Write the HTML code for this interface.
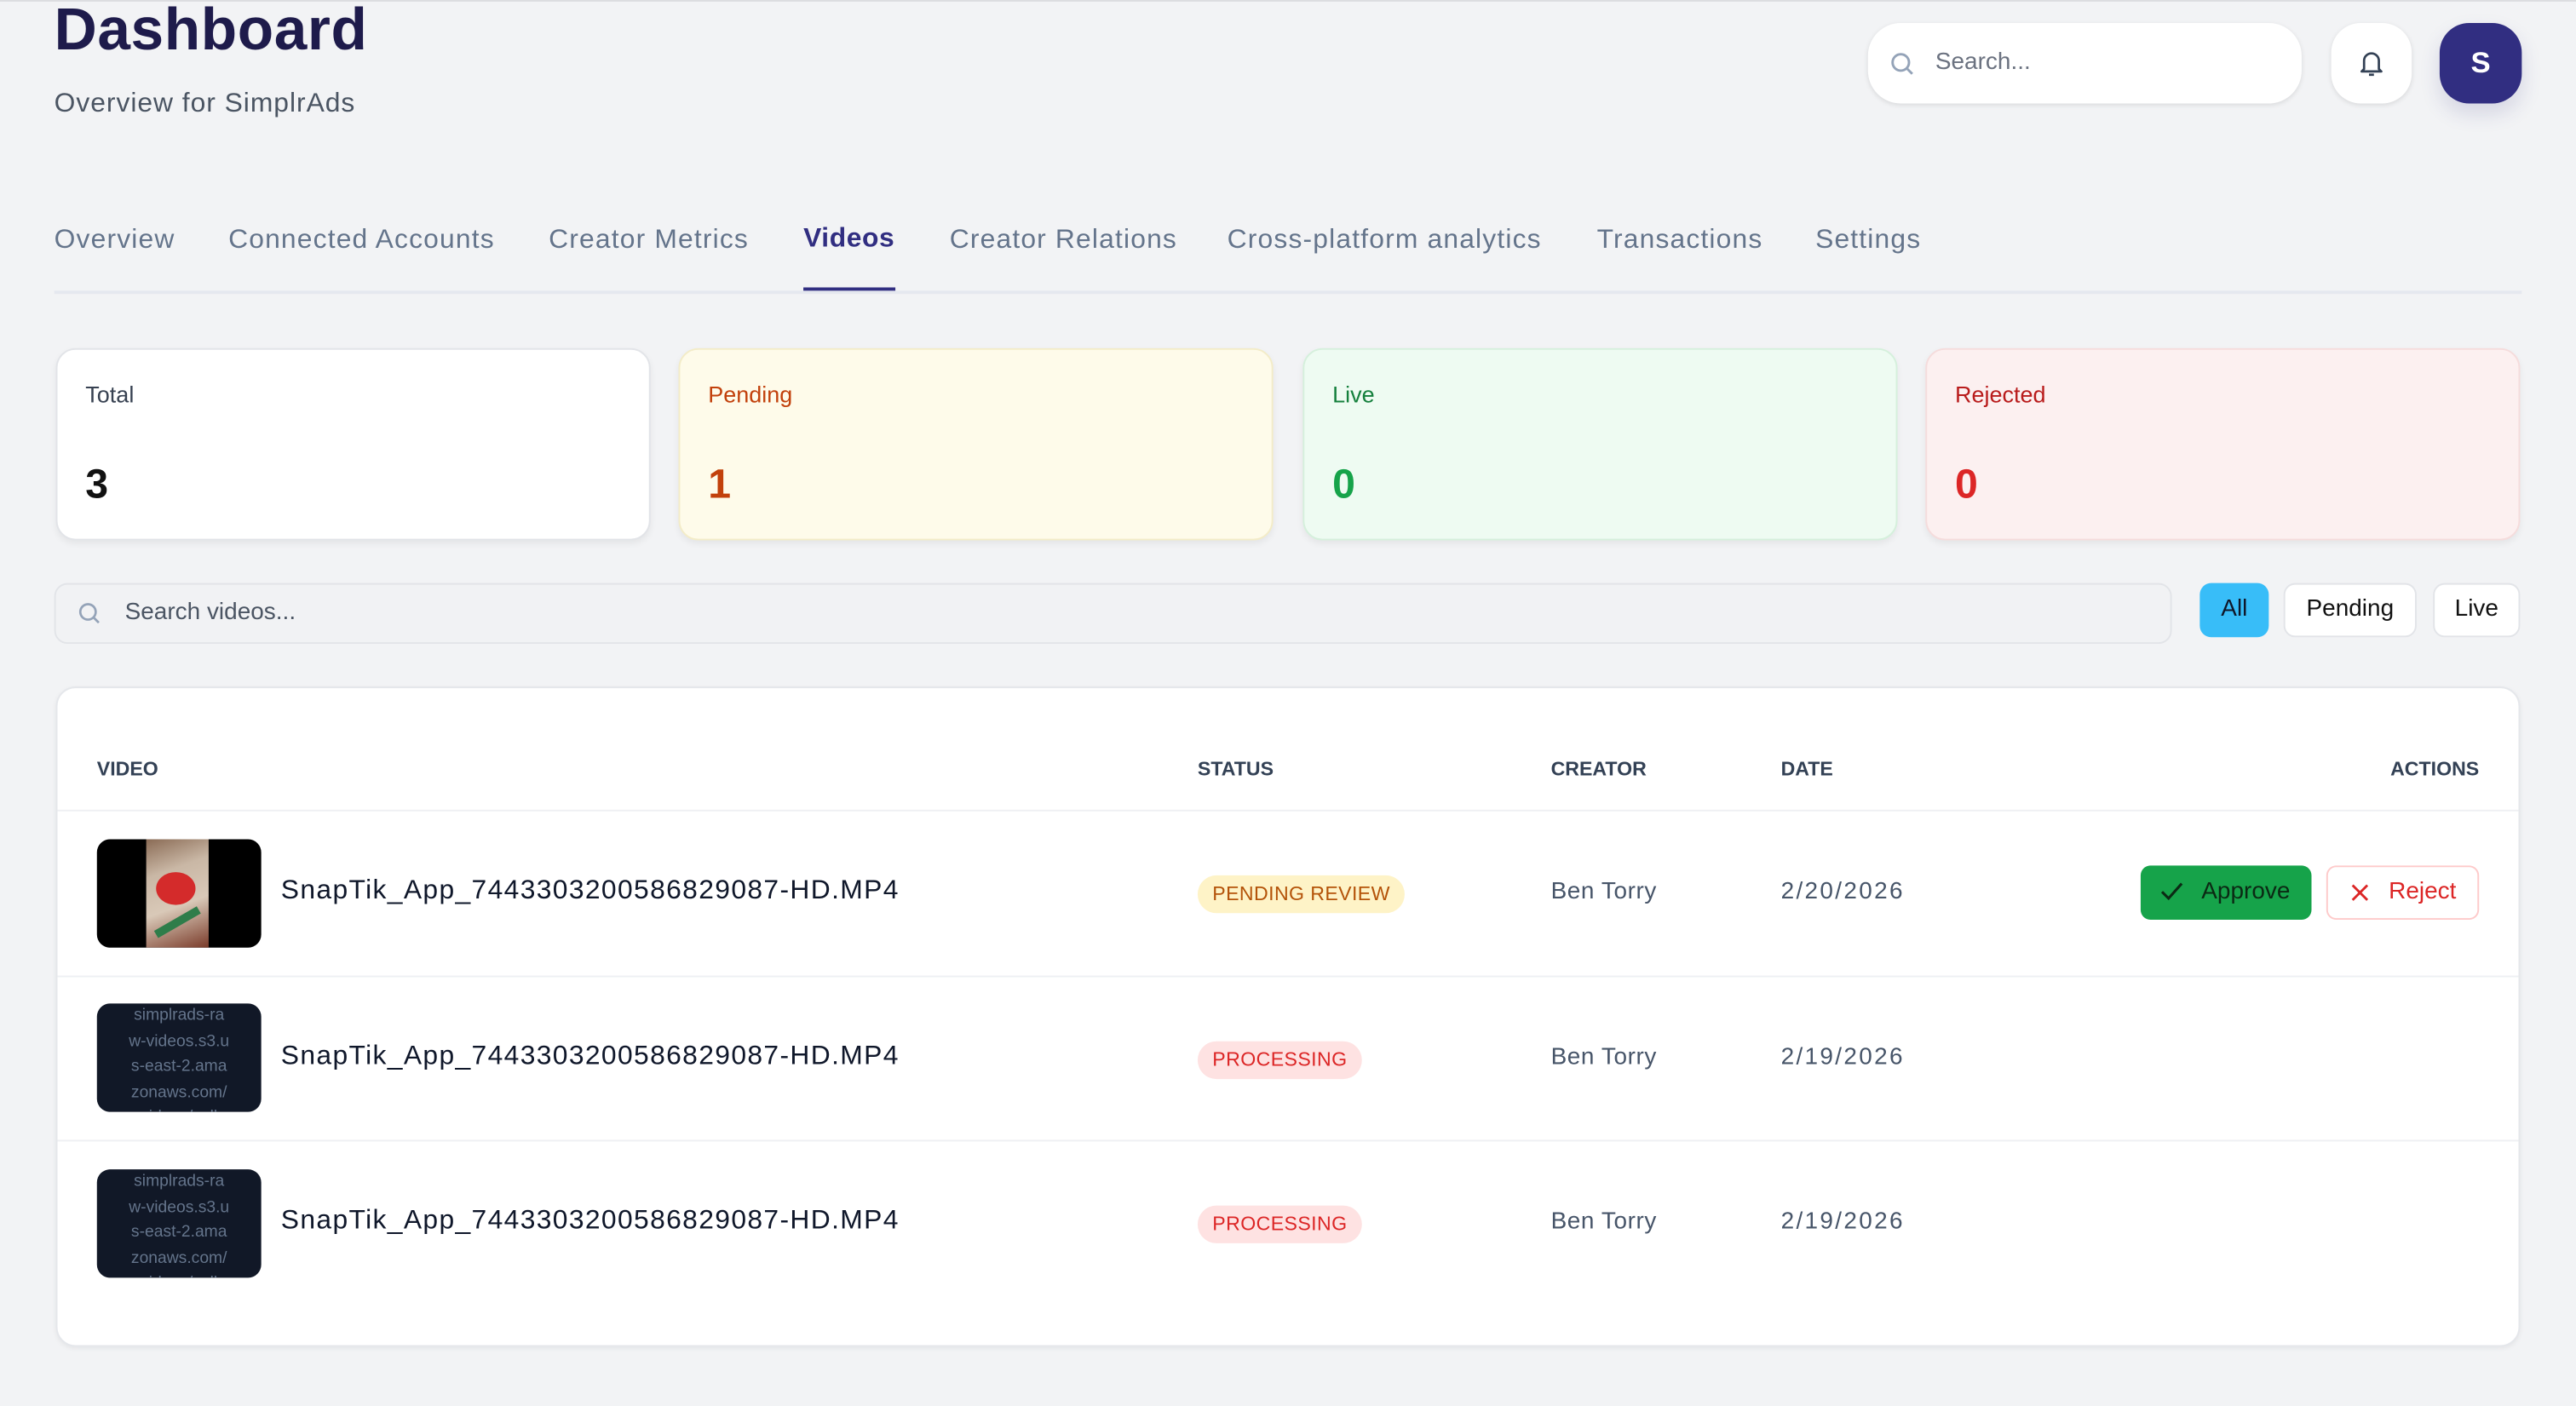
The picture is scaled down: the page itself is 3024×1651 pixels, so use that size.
<!DOCTYPE html>
<html><head><meta charset="utf-8"><style>
*{box-sizing:border-box;margin:0;padding:0}
html,body{width:3024px;height:1650px;overflow:hidden;background:#f2f3f5}
#w{position:absolute;left:0;top:0;width:1568px;height:856px;transform:scale(1.928571);transform-origin:0 0;font-family:"Liberation Sans",sans-serif;background:#f2f3f5;border-top:1px solid #dcdde0}
.a{position:absolute}
.tab{position:absolute;top:136px;font-size:16.5px;color:#64748b;letter-spacing:0.6px}
.card{position:absolute;top:211px;height:117px;width:362px;border-radius:12px;border:1px solid #e2e4e8;box-shadow:0 2px 4px rgba(0,0,0,.06)}
.card .l{position:absolute;left:17px;top:19px;font-size:14px}
.card .n{position:absolute;left:17px;top:68px;font-size:25px;font-weight:bold}
.th{position:absolute;top:460px;font-size:12px;font-weight:bold;color:#334155}
.thumb{position:absolute;left:59px;width:100px;height:66px;border-radius:8px;background:#111827;overflow:hidden;color:#64748b;font-size:10px;text-align:center;line-height:15.5px;padding-top:0}
.fn{position:absolute;left:171px;font-size:16.5px;color:#0f172a;letter-spacing:0.7px}
.cr{position:absolute;left:944px;font-size:14.5px;color:#475569;letter-spacing:0.3px}
.dt{position:absolute;left:1084px;font-size:14.5px;color:#475569;letter-spacing:1.2px}
.bd{position:absolute;left:729px;height:23px;border-radius:12px;font-size:12px;line-height:23px;padding:0 9px;letter-spacing:0.2px}
.hr{position:absolute;left:35px;width:1498px;height:1px;background:#eef0f3}
</style></head><body><div id="w">
<div class="a" style="left:33px;top:-4px;font-size:36px;font-weight:bold;color:#1e1b4b;letter-spacing:0.3px">Dashboard</div>
<div class="a" style="left:33px;top:53px;font-size:16.5px;color:#4b5563;letter-spacing:0.5px">Overview for SimplrAds</div>
<div class="a" style="left:1137px;top:13px;width:264px;height:49px;background:#fff;border-radius:20px;box-shadow:0 1px 3px rgba(0,0,0,.1)">
<svg class="a" style="left:13px;top:17px" width="16" height="16" viewBox="0 0 16 16"><circle cx="7" cy="7" r="5" fill="none" stroke="#94a3b8" stroke-width="1.5"/><line x1="11" y1="11" x2="14" y2="14" stroke="#94a3b8" stroke-width="1.5"/></svg>
<span class="a" style="left:41px;top:16px;font-size:14.5px;color:#6b7280">Search...</span></div>
<div class="a" style="left:1419px;top:13px;width:49px;height:49px;background:#fff;border-radius:18px;box-shadow:0 1px 3px rgba(0,0,0,.1)">
<svg class="a" style="left:17px;top:16px" width="15" height="17" viewBox="0 0 15 17"><path d="M3 12V7a4.5 4.5 0 0 1 9 0v5l1.5 1.5h-12z" fill="none" stroke="#334155" stroke-width="1.4" stroke-linejoin="round"/><path d="M6 15.5h3" stroke="#334155" stroke-width="1.4"/></svg></div>
<div class="a" style="left:1485px;top:13px;width:50px;height:49px;background:#312e81;border-radius:18px;box-shadow:0 6px 12px rgba(49,46,129,.15);color:#fff;font-weight:bold;font-size:18px;text-align:center;line-height:49px">S</div>
<div class="tab" style="left:33px">Overview</div>
<div class="tab" style="left:139px">Connected Accounts</div>
<div class="tab" style="left:334px">Creator Metrics</div>
<div class="tab" style="left:489px;color:#312e81;font-weight:bold;top:135px;letter-spacing:0.3px">Videos</div>
<div class="tab" style="left:578px">Creator Relations</div>
<div class="tab" style="left:747px">Cross-platform analytics</div>
<div class="tab" style="left:972px">Transactions</div>
<div class="tab" style="left:1105px">Settings</div>
<div class="a" style="left:33px;top:176px;width:1502px;height:2px;background:#e5e8ef"></div>
<div class="a" style="left:489px;top:174px;width:56px;height:2px;background:#312e81"></div>
<div class="card" style="left:34px;background:#fff"><div class="l" style="color:#374151">Total</div><div class="n" style="color:#111">3</div></div>
<div class="card" style="left:413px;background:#fefbea;border-color:#f3ecc8"><div class="l" style="color:#c2410c">Pending</div><div class="n" style="color:#c2410c">1</div></div>
<div class="card" style="left:793px;background:#eefbf2;border-color:#d5f0dc"><div class="l" style="color:#15803d">Live</div><div class="n" style="color:#16a34a">0</div></div>
<div class="card" style="left:1172px;background:#fcf0f0;border-color:#f5dcdc"><div class="l" style="color:#b91c1c">Rejected</div><div class="n" style="color:#dc2626">0</div></div>
<div class="a" style="left:33px;top:354px;width:1289px;height:37px;background:#f1f2f4;border:1px solid #e2e4e8;border-radius:8px">
<svg class="a" style="left:13px;top:10px" width="15" height="15" viewBox="0 0 16 16"><circle cx="7" cy="7" r="5" fill="none" stroke="#94a3b8" stroke-width="1.5"/><line x1="11" y1="11" x2="14" y2="14" stroke="#94a3b8" stroke-width="1.5"/></svg>
<span class="a" style="left:42px;top:9px;font-size:14.5px;color:#4b5563">Search videos...</span></div>
<div class="a" style="left:1339px;top:354px;width:42px;height:33px;background:#38bdf8;border-radius:7px;font-size:14.5px;text-align:center;line-height:33px;color:#0f172a">All</div>
<div class="a" style="left:1390px;top:354px;width:81px;height:33px;background:#fff;border:1px solid #e2e4e8;border-radius:7px;font-size:14.5px;text-align:center;line-height:31px;color:#111">Pending</div>
<div class="a" style="left:1481px;top:354px;width:53px;height:33px;background:#fff;border:1px solid #e2e4e8;border-radius:7px;font-size:14.5px;text-align:center;line-height:31px;color:#111">Live</div>
<div class="a" style="left:34px;top:417px;width:1500px;height:402px;background:#fff;border:1px solid #e5e7eb;border-radius:12px;box-shadow:0 1px 3px rgba(0,0,0,.06)"></div>
<div class="th" style="left:59px">VIDEO</div><div class="th" style="left:729px">STATUS</div><div class="th" style="left:944px">CREATOR</div><div class="th" style="left:1084px">DATE</div><div class="th" style="left:1455px">ACTIONS</div>
<div class="hr" style="top:492px"></div><div class="hr" style="top:593px"></div><div class="hr" style="top:693px"></div>
<div class="thumb" style="top:510px;background:#000"><div class="a" style="left:30px;top:0;width:38px;height:66px;background:linear-gradient(160deg,#8a6b55,#c9b7a5 30%,#d9c9b8 60%,#7a3b2a)"></div><div class="a" style="left:36px;top:20px;width:24px;height:20px;border-radius:50%;background:#d42b2b"></div><div class="a" style="left:34px;top:48px;width:30px;height:5px;background:#2f7d4a;transform:rotate(-30deg)"></div></div>
<div class="thumb" style="top:610px">simplrads-ra<br>w-videos.s3.u<br>s-east-2.ama<br>zonaws.com/<br>videos/coll</div>
<div class="thumb" style="top:711px">simplrads-ra<br>w-videos.s3.u<br>s-east-2.ama<br>zonaws.com/<br>videos/coll</div>
<div class="fn" style="top:532px">SnapTik_App_7443303200586829087-HD.MP4</div>
<div class="fn" style="top:633px">SnapTik_App_7443303200586829087-HD.MP4</div>
<div class="fn" style="top:733px">SnapTik_App_7443303200586829087-HD.MP4</div>
<div class="bd" style="top:532px;background:#fef3c7;color:#b45309">PENDING REVIEW</div>
<div class="bd" style="top:633px;background:#fee2e2;color:#dc2626">PROCESSING</div>
<div class="bd" style="top:733px;background:#fee2e2;color:#dc2626">PROCESSING</div>
<div class="cr" style="top:534px">Ben Torry</div><div class="cr" style="top:635px">Ben Torry</div><div class="cr" style="top:735px">Ben Torry</div>
<div class="dt" style="top:534px">2/20/2026</div><div class="dt" style="top:635px">2/19/2026</div><div class="dt" style="top:735px">2/19/2026</div>
<div class="a" style="left:1303px;top:526px;width:104px;height:33px;background:#16a34a;border-radius:6px;color:#0b2a14;font-size:14.5px;line-height:33px;padding-left:37px">Approve
<svg class="a" style="left:12px;top:10px" width="14" height="12" viewBox="0 0 14 12"><path d="M1 6l4 4 8-9" fill="none" stroke="#0b2a14" stroke-width="1.6"/></svg></div>
<div class="a" style="left:1416px;top:526px;width:93px;height:33px;background:#fff;border:1px solid #fecaca;border-radius:6px;color:#dc2626;font-size:14.5px;line-height:31px;padding-left:37px">Reject
<svg class="a" style="left:14px;top:10px" width="11" height="11" viewBox="0 0 11 11"><path d="M1 1l9 9M10 1l-9 9" stroke="#dc2626" stroke-width="1.5"/></svg></div>
</div></body></html>
